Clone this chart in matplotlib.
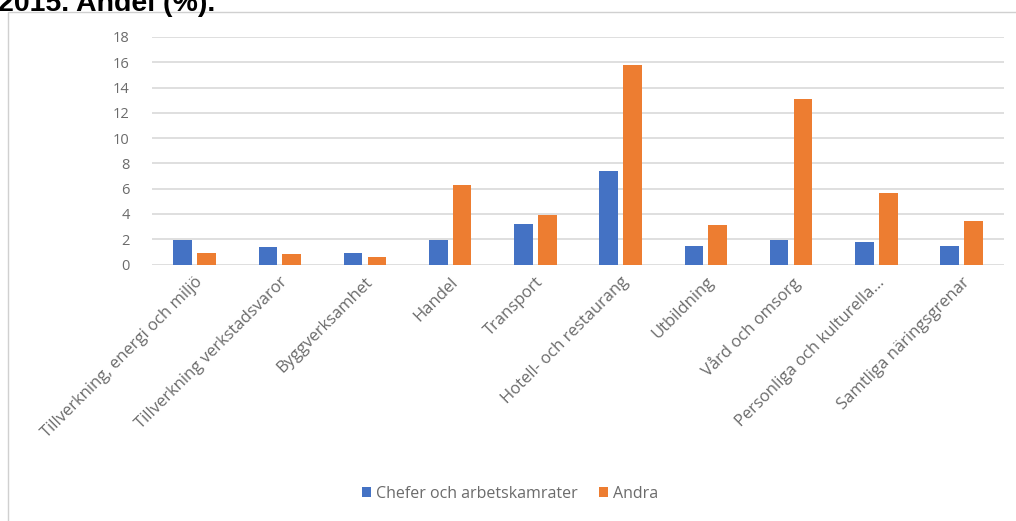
import matplotlib
matplotlib.use("Agg")
import matplotlib.pyplot as plt
import numpy as np
from matplotlib.patches import Rectangle

# Andel (%) per näringsgren, 2015
categories = [
    "Tillverkning, energi och miljö",
    "Tillverkning verkstadsvaror",
    "Byggverksamhet",
    "Handel",
    "Transport",
    "Hotell- och restaurang",
    "Utbildning",
    "Vård och omsorg",
    "Personliga och kulturella...",
    "Samtliga näringsgrenar",
]
chefer = [1.95, 1.35, 0.9, 1.95, 3.2, 7.4, 1.5, 1.95, 1.75, 1.5]
andra = [0.9, 0.8, 0.6, 6.3, 3.9, 15.8, 3.15, 13.1, 5.65, 3.45]
series_names = ["Chefer och arbetskamrater", "Andra"]
yticks = [0, 2, 4, 6, 8, 10, 12, 14, 16, 18]

BLUE = "#4472C4"
ORANGE = "#ED7D31"
TEXT = "#6b6b6b"
GRID = "#d9d9d9"

plt.rcParams['font.family'] = ['Open Sans', 'DejaVu Sans']

fig = plt.figure(figsize=(10.16, 5.21), dpi=100)
fig.patch.set_facecolor("white")

# chart frame
fig.patches.append(Rectangle((8 / 1016, -0.1), 1.1, 1 - 12 / 521 + 0.1,
                             transform=fig.transFigure, fill=False,
                             edgecolor="#d0d0d0", linewidth=1.0))

# title, partly clipped by the top edge
fig.text(-0.002, 1 - 11 / 521, "2015. Andel (%).", fontsize=20.5,
         fontweight="bold", family="Liberation Sans", color="black",
         ha="left", va="baseline")

ax = fig.add_axes([152 / 1016, 1 - 264.5 / 521, (1004 - 152) / 1016,
                   (264.5 - 37) / 521])

x = np.arange(len(categories))
w = 0.22
off = 0.14
ax.bar(x - off, chefer, w, color=BLUE, label=series_names[0], zorder=3)
ax.bar(x + off, andra, w, color=ORANGE, label=series_names[1], zorder=3)

ax.set_xlim(-0.5, len(categories) - 0.5)
ax.set_ylim(0, 18)
ax.set_yticks(yticks)
ax.set_yticklabels([str(t) for t in yticks], fontsize=10.5, color=TEXT)
ax.yaxis.grid(True, color=GRID, linewidth=1.2, zorder=0)
ax.set_axisbelow(True)
for s in ax.spines.values():
    s.set_visible(False)
ax.tick_params(axis="y", length=0, pad=16)
ax.tick_params(axis="x", length=0, pad=7)

ax.set_xticks(x)
ax.set_xticklabels(categories, rotation=45, ha="right", va="top",
                   rotation_mode="anchor", fontsize=12, color=TEXT)

handles, labels = ax.get_legend_handles_labels()
fig.legend(handles, labels, loc="center", bbox_to_anchor=(510 / 1016, 1 - 494 / 521),
           ncol=2, frameon=False, fontsize=11.5, labelcolor=TEXT,
           handlelength=0.6, handleheight=0.6, handletextpad=0.3,
           columnspacing=1.3)

fig.savefig("out.png", dpi=100)
